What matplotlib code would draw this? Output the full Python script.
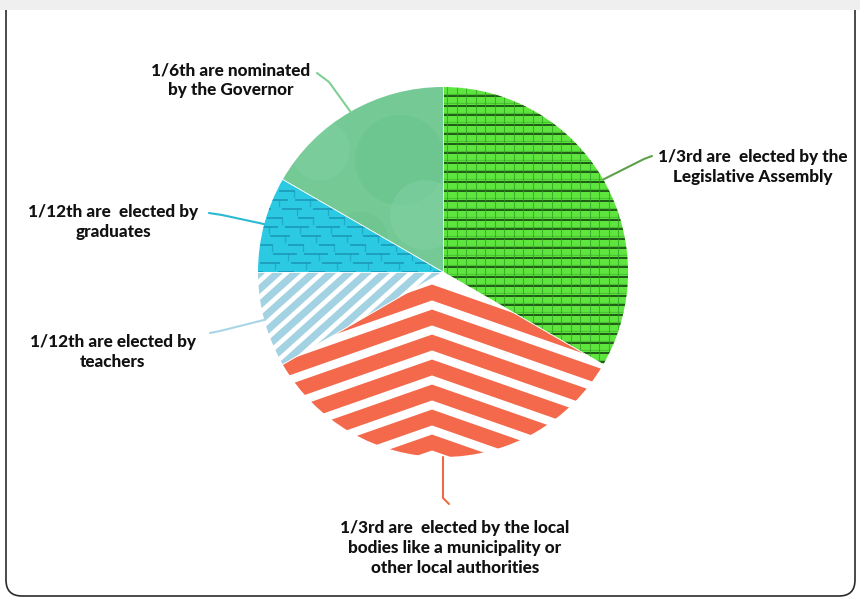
import numpy as np
import matplotlib
matplotlib.use('Agg')
import matplotlib.pyplot as plt
from matplotlib.patches import FancyBboxPatch, Rectangle, Circle

W, H = 860, 599

# ---------- DATA ----------
labels = [
    "1/3rd are  elected by the\nLegislative Assembly",
    "1/3rd are  elected by the local\nbodies like a municipality or\nother local authorities",
    "1/12th are elected by\nteachers",
    "1/12th are  elected by\ngraduates",
    "1/6th are nominated\nby the Governor",
]
shares = [4, 4, 1, 1, 2]  # twelfths of the council
fill_colors = ["#5ee63f", "#ffffff", "#ffffff", "#2ccae2", "#74c995"]
line_colors = ["#5f9f4c", "#f06b43", "#a9d6e6", "#2bbad2", "#7fd092"]

# label centres and connector ends, in pixels from top-left
label_xy = [(753, 167), (455, 548), (113, 352), (113, 222), (231, 80)]
conn_end = [(652, 156), (449, 504), (210, 333), (209, 213), (317, 73)]
conn_elbow = [(644, 159), (443, 498), (220, 331), (222, 215), (329, 82)]


def P(x, y):
    # pixel (top-left origin) -> data
    return x, H - y


fig = plt.figure(figsize=(8.6, 5.99), dpi=100)
ax = fig.add_axes([0, 0, 1, 1])

cx, cy = P(443, 272)
r = 185

wedges, _ = ax.pie(shares, startangle=90, counterclock=False,
                   center=(cx, cy), radius=r, colors=fill_colors,
                   wedgeprops=dict(linewidth=0))
ax.set_xlim(0, W)
ax.set_ylim(0, H)
ax.set_aspect('equal')
ax.axis('off')

leg, local, teach, grad, gov = wedges

# ---------- PATTERNS ----------
# legislative: green brick grid
for yy in np.arange(cy - r, cy + r, 9.5):
    ln, = ax.plot([cx - 5, cx + r + 5], [yy, yy], color="#1f5a15", lw=1.4, zorder=2)
    ln.set_clip_path(leg)
    ln, = ax.plot([cx - 5, cx + r + 5], [yy + 2.2, yy + 2.2], color="#3fae2c",
                  lw=0.9, alpha=0.6, zorder=2)
    ln.set_clip_path(leg)
for xx in np.arange(cx + 4, cx + r + 5, 9.5):
    ln, = ax.plot([xx, xx], [cy - r, cy + r], color="#339a25", lw=0.8,
                  alpha=0.7, zorder=2)
    ln.set_clip_path(leg)

# local bodies: chevrons
apex_x = 432
for k in range(9):
    _, y0 = P(0, 292.5 + 25 * k)
    dx = np.array([-300, 0, 300])
    ln, = ax.plot(apex_x + dx, y0 - 0.35 * np.abs(dx), color="#f4694b",
                  lw=10.8, solid_joinstyle='miter', zorder=2)
    ln.set_clip_path(local)

# teachers: diagonal stripes
for b in np.arange(-700, 700, 16):
    xs = np.array([cx - r - 50, cx + 50])
    ln, = ax.plot(xs, 0.9 * (xs - cx) + cy + b, color="#a3d2e3", lw=5.2, zorder=2)
    ln.set_clip_path(teach)

# graduates: rough stone texture
k = 0
for yy in np.arange(cy, cy + 100, 9):
    off = (k * 13) % 29
    for xx in np.arange(cx - r - 10 + off, cx, 31):
        ln, = ax.plot([xx, xx + 14 + (k % 3) * 4], [yy, yy], color="#178fae",
                      lw=1.4, alpha=0.7, zorder=2)
        ln.set_clip_path(grad)
        ln2, = ax.plot([xx + 14, xx + 14], [yy, yy - 6], color="#1a9bb8",
                       lw=1.0, alpha=0.6, zorder=2)
        ln2.set_clip_path(grad)
    k += 1

# governor: soft bubbles
for (bx, by, br, bc) in [(400, 160, 45, "#62c088"), (320, 150, 30, "#86d4a6"),
                         (425, 215, 35, "#8ad6aa"), (360, 240, 28, "#66c28b"),
                         (300, 105, 40, "#80d1a1")]:
    c = Circle(P(bx, by), br, color=bc, alpha=0.35, lw=0, zorder=2)
    ax.add_patch(c)
    c.set_clip_path(gov)

for w in wedges:
    w.set_zorder(1)

# thin separators between slices
for w in wedges:
    for th in (w.theta1, w.theta2):
        t = np.radians(th)
        ax.plot([cx, cx + r * np.cos(t)], [cy, cy + r * np.sin(t)],
                color="#ffffff", lw=0.6, alpha=0.7, zorder=3)

# ---------- LABELS & CONNECTORS ----------
for w, lab, lc, (lx, ly), (ex, ey), (bx, by) in zip(
        wedges, labels, line_colors, label_xy, conn_end, conn_elbow):
    t = np.radians((w.theta1 + w.theta2) / 2)
    ax0, ay0 = cx + r * np.cos(t), cy + r * np.sin(t)
    px, py = P(bx, by)
    qx, qy = P(ex, ey)
    ax.plot([ax0, px, qx], [ay0, py, qy], color=lc, lw=1.5,
            solid_capstyle='round', solid_joinstyle='round', zorder=4)
    tx, ty = P(lx, ly)
    ax.text(tx, ty, lab, ha='center', va='center', fontsize=12.3,
            fontweight='black', family='Lato', color="#111111",
            linespacing=1.3, zorder=5)

# ---------- FRAME ----------
frame = FancyBboxPatch((6, 3), 849, 620, boxstyle="round,pad=0,rounding_size=16",
                       fill=False, ec="#2b2b2b", lw=1.2, zorder=6)
ax.add_patch(frame)
ax.add_patch(Rectangle((0, H - 10), W, 10, color="#efefef", lw=0, zorder=7))

plt.savefig("out.png", dpi=100)
plt.close()
